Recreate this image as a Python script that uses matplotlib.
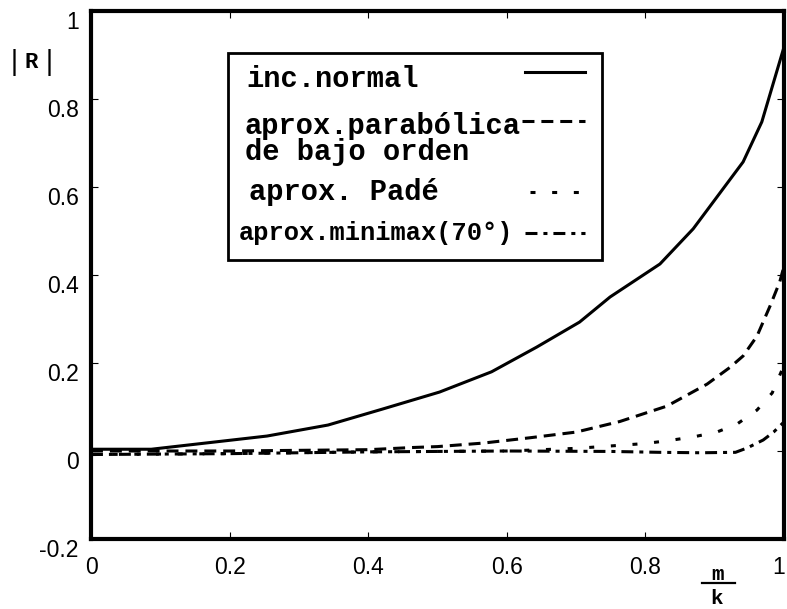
import matplotlib
matplotlib.use("Agg")
import matplotlib.pyplot as plt
from matplotlib.lines import Line2D
from matplotlib.patches import Rectangle
from matplotlib.transforms import ScaledTranslation

# ---- data ----
x_normal = [0, 0.087, 0.254, 0.342, 0.42, 0.503, 0.578, 0.643, 0.705, 0.749, 0.821, 0.869, 0.941, 0.968, 1.0]
y_normal = [0.004, 0.004, 0.034, 0.059, 0.095, 0.134, 0.18, 0.236, 0.293, 0.35, 0.425, 0.505, 0.657, 0.748, 0.918]

x_parab = [0, 0.2, 0.4, 0.465, 0.5, 0.566, 0.633, 0.70, 0.763, 0.831, 0.889, 0.922, 0.941, 0.961, 0.98, 0.994, 1.0]
y_parab = [0.0, 0.0, 0.003, 0.008, 0.01, 0.018, 0.03, 0.043, 0.067, 0.102, 0.152, 0.19, 0.216, 0.261, 0.33, 0.385, 0.42]

x_pade = [0, 0.2, 0.4, 0.6, 0.7, 0.8, 0.835, 0.869, 0.903, 0.932, 0.961, 0.983, 1.0]
y_pade = [-0.008, -0.006, -0.002, 0.0, 0.006, 0.017, 0.024, 0.032, 0.043, 0.061, 0.093, 0.132, 0.195]

x_minimax = [0, 0.2, 0.4, 0.6, 0.75, 0.82, 0.88, 0.93, 0.947, 0.97, 0.985, 1.0]
y_minimax = [-0.008, -0.006, -0.002, 0.0, -0.001, -0.003, -0.004, -0.003, 0.007, 0.025, 0.043, 0.066]

x_ticks = [0, 0.2, 0.4, 0.6, 0.8, 1.0]
x_ticklabels = ["0", "0.2", "0.4", "0.6", "0.8", "1"]
y_ticks = [-0.2, 0, 0.2, 0.4, 0.6, 0.8, 1.0]
y_ticklabels = ["-0.2", "0", "0.2", "0.4", "0.6", "0.8", "1"]

legend_labels = ["inc.normal", "aprox.parabólica\nde bajo orden", "aprox. Padé", "aprox.minimax(70°)"]

plt.rcParams['lines.scale_dashes'] = False

W, H = 787, 609
fig = plt.figure(figsize=(W / 100, H / 100), dpi=100)
L, R_, T, B = 91, 784, 11, 539
ax = fig.add_axes([L / W, 1 - B / H, (R_ - L) / W, (B - T) / H])

lw = 2.2
ax.plot(x_normal, y_normal, color="black", lw=lw, solid_joinstyle="miter")
ax.plot(x_parab, y_parab, color="black", lw=lw, dashes=(8.6, 5.0))
ax.plot(x_pade, y_pade, color="black", lw=lw, dashes=(3.6, 12.0))
ax.plot(x_minimax, y_minimax, color="black", lw=lw, dashes=(8.6, 4.3, 2.9, 4.3))

ax.set_xlim(0, 1)
ax.set_ylim(-0.2, 1)
ax.set_xticks(x_ticks)
ax.set_xticklabels(x_ticklabels)
ax.set_yticks(y_ticks)
ax.set_yticklabels(y_ticklabels)
ax.tick_params(direction="in", length=5, width=0.8, top=True, right=True,
               labelsize=16.5, pad=9)
for lab in ax.get_xticklabels() + ax.get_yticklabels():
    lab.set_fontfamily("Liberation Sans")
for lab in ax.get_yticklabels():
    lab.set_transform(lab.get_transform() + ScaledTranslation(0, -9 / 100, fig.dpi_scale_trans))
xlabs = ax.get_xticklabels()
for i, lab in enumerate(xlabs):
    dx = -5 / 100 if i == len(xlabs) - 1 else 0
    lab.set_transform(lab.get_transform() + ScaledTranslation(dx, -4 / 100, fig.dpi_scale_trans))
for s in ax.spines.values():
    s.set_linewidth(3.0)

# ---- legend box ----
def ax_x(px):
    return (px - L) / (R_ - L)

def ax_y(py):
    return (B - py) / (B - T)

ax.add_patch(Rectangle((ax_x(228), ax_y(260)), ax_x(602) - ax_x(228), ax_y(53) - ax_y(260),
                       transform=ax.transAxes, fill=False, lw=2.0, ec="black", zorder=5))
mono = dict(family="Liberation Mono", weight="bold", color="black", transform=ax.transAxes,
            va="center", ha="left", zorder=6)
ax.text(ax_x(246), ax_y(79), legend_labels[0], fontsize=20.7, **mono)
ax.text(ax_x(245), ax_y(139), legend_labels[1], fontsize=20.7, linespacing=0.92, **mono)
ax.text(ax_x(249), ax_y(192), legend_labels[2], fontsize=20.7, **mono)
ax.text(ax_x(239), ax_y(233), legend_labels[3], fontsize=18.3, **mono)

samples = [
    (72, 525, 585, dict()),
    (121, 522, 585, dict(dashes=(8.6, 5.0))),
    (192, 530, 585, dict(dashes=(3.6, 12.0))),
    (233, 525, 585, dict(dashes=(8.6, 4.3, 2.9, 4.3))),
]
for py, x0, x1, st in samples:
    ax.add_line(Line2D([ax_x(x0), ax_x(x1)], [ax_y(py), ax_y(py)], transform=ax.transAxes,
                       color="black", lw=lw, zorder=6, **st))

# ---- axis labels ----
def fx(px):
    return px / W

def fy(py):
    return 1 - py / H

fig.text(fx(14), fy(63), "|", fontsize=19, family="DejaVu Sans", ha="center", va="center")
fig.text(fx(31), fy(63), "R", fontsize=16, family="Liberation Mono", weight="bold", ha="center", va="center")
fig.text(fx(49), fy(63), "|", fontsize=19, family="DejaVu Sans", ha="center", va="center")

fig.text(fx(718), fy(574), "m", fontsize=15, family="Liberation Mono", weight="bold", ha="center", va="center")
fig.add_artist(Line2D([fx(702), fx(735)], [fy(583), fy(583)], transform=fig.transFigure, color="black", lw=1.6))
fig.text(fx(717), fy(598), "k", fontsize=15, family="Liberation Mono", weight="bold", ha="center", va="center")

fig.savefig("out.png", dpi=100)
